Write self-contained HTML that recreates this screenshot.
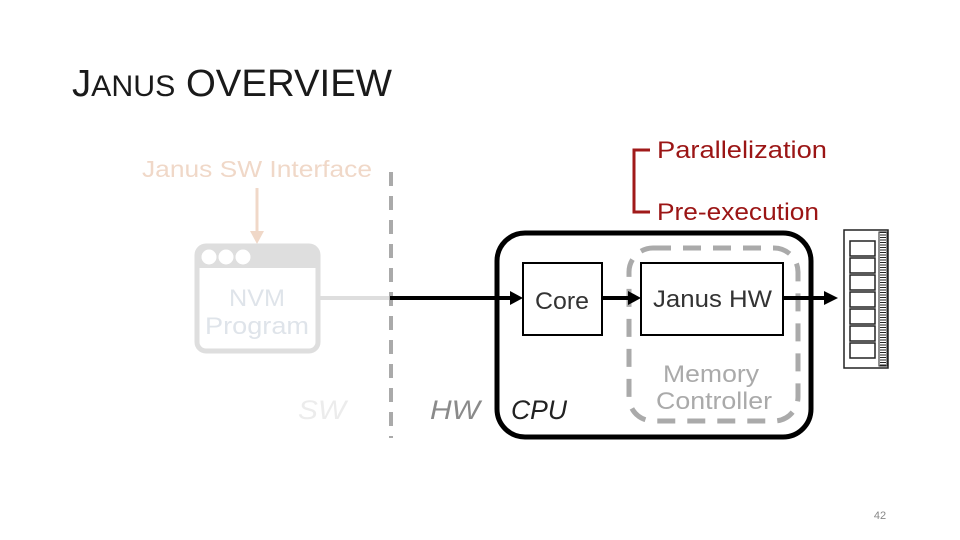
<!DOCTYPE html>
<html><head><meta charset="utf-8"><style>
html,body{margin:0;padding:0;background:#fff;}
svg{display:block;}
text{font-family:"Liberation Sans",sans-serif;}
</style></head><body>
<svg width="960" height="540" viewBox="0 0 960 540" xmlns="http://www.w3.org/2000/svg">
<text x="72" y="96" font-size="38" fill="#1a1a1a" textLength="320" lengthAdjust="spacingAndGlyphs">J<tspan font-size="30">ANUS</tspan> OVERVIEW</text>

<text x="142" y="177" font-size="23" fill="#f0d8c8" textLength="230" lengthAdjust="spacingAndGlyphs">Janus SW Interface</text>
<line x1="257" y1="188" x2="257" y2="232" stroke="#f0d8c8" stroke-width="3"/>
<polygon points="250,231 264,231 257,244" fill="#f0d8c8"/>

<rect x="197" y="246" width="121" height="105" rx="9" fill="#fff" stroke="#dedede" stroke-width="5"/>
<path d="M197,268 V255 a9,9 0 0 1 9,-9 H309 a9,9 0 0 1 9,9 V268 Z" fill="#dedede"/>
<circle cx="209" cy="257" r="7.5" fill="#fff"/>
<circle cx="226" cy="257" r="7.5" fill="#fff"/>
<circle cx="243" cy="257" r="7.5" fill="#fff"/>
<text x="229" y="306" font-size="24" fill="#dfe4ea" textLength="56" lengthAdjust="spacingAndGlyphs">NVM</text>
<text x="205" y="334" font-size="24" fill="#dfe4ea" textLength="104" lengthAdjust="spacingAndGlyphs">Program</text>

<line x1="318" y1="298" x2="390" y2="298" stroke="#dedede" stroke-width="4"/>
<line x1="391" y1="172" x2="391" y2="438" stroke="#aaa" stroke-width="4" stroke-dasharray="14,10"/>
<line x1="390" y1="298" x2="512" y2="298" stroke="#000" stroke-width="4"/>
<polygon points="510,291 523,298 510,305" fill="#000"/>

<text x="298" y="419" font-size="27" font-style="italic" fill="#ececec" textLength="48" lengthAdjust="spacingAndGlyphs">SW</text>
<text x="430" y="419" font-size="27" font-style="italic" fill="#8a8a8a" textLength="50" lengthAdjust="spacingAndGlyphs">HW</text>

<rect x="497" y="233" width="314" height="204" rx="28" fill="none" stroke="#000" stroke-width="5"/>
<text x="511" y="419" font-size="27" font-style="italic" fill="#222" textLength="56" lengthAdjust="spacingAndGlyphs">CPU</text>

<rect x="523" y="263" width="79" height="72" fill="#fff" stroke="#000" stroke-width="2"/>
<text x="535" y="309" font-size="24" fill="#333" textLength="54" lengthAdjust="spacingAndGlyphs">Core</text>

<rect x="629" y="248" width="169" height="173" rx="24" fill="none" stroke="#aaa" stroke-width="5" stroke-dasharray="18,12"/>

<line x1="602" y1="298" x2="630" y2="298" stroke="#000" stroke-width="4"/>
<polygon points="628,291 641,298 628,305" fill="#000"/>

<rect x="641" y="263" width="142" height="72" fill="#fff" stroke="#000" stroke-width="2"/>
<text x="653" y="307" font-size="24" fill="#333" textLength="119" lengthAdjust="spacingAndGlyphs">Janus HW</text>

<line x1="783" y1="298" x2="826" y2="298" stroke="#000" stroke-width="4"/>
<polygon points="824,291 838,298 824,305" fill="#000"/>

<text x="663" y="382" font-size="24" fill="#aaa" textLength="96" lengthAdjust="spacingAndGlyphs">Memory</text>
<text x="656" y="409" font-size="24" fill="#aaa" textLength="116" lengthAdjust="spacingAndGlyphs">Controller</text>

<g>
<rect x="844" y="230" width="44" height="138" fill="#fff" stroke="#222" stroke-width="1.5"/>
<g fill="none" stroke="#222" stroke-width="1.5">
<rect x="850" y="241" width="25" height="15"/>
<rect x="850" y="258" width="25" height="15"/>
<rect x="850" y="275" width="25" height="15"/>
<rect x="850" y="292" width="25" height="15"/>
<rect x="850" y="309" width="25" height="15"/>
<rect x="850" y="326" width="25" height="15"/>
<rect x="850" y="343" width="25" height="15"/>
</g>
<rect x="879" y="232" width="8" height="134" fill="none" stroke="#222" stroke-width="1"/>
<line x1="883" y1="232" x2="883" y2="366" stroke="#222" stroke-width="6" stroke-dasharray="1,1.5"/>
</g>

<path d="M650,150 H634 V212 H650" fill="none" stroke="#a01a1a" stroke-width="3"/>
<text x="657" y="158" font-size="24" fill="#9b1515" textLength="170" lengthAdjust="spacingAndGlyphs">Parallelization</text>
<text x="657" y="220" font-size="24" fill="#9b1515" textLength="162" lengthAdjust="spacingAndGlyphs">Pre-execution</text>

<text x="880" y="519" font-size="11" fill="#888" text-anchor="middle">42</text>
</svg>
</body></html>
